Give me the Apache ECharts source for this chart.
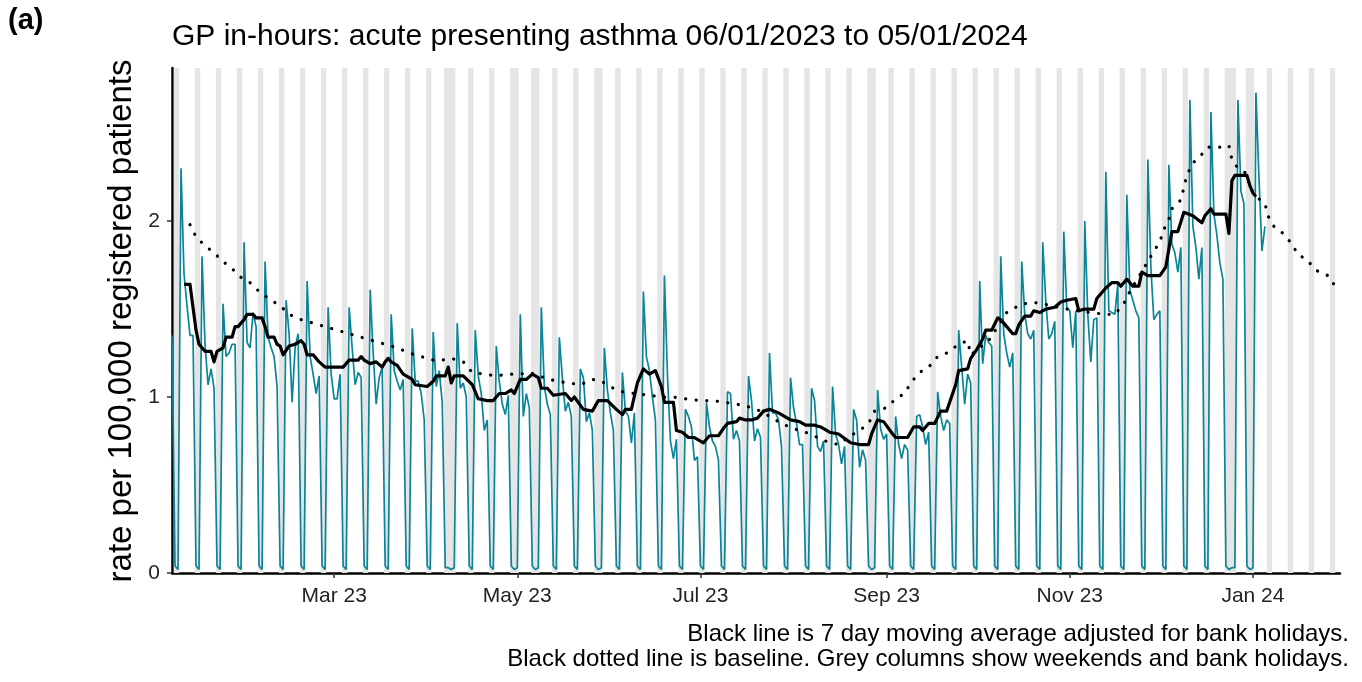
<!DOCTYPE html>
<html><head><meta charset="utf-8">
<script src="https://cdn.jsdelivr.net/npm/echarts@6/dist/echarts.min.js"></script>
<style>html,body{margin:0;padding:0;background:#fff}#chart{width:1362px;height:682px}</style>
</head><body><div id="chart"></div>
<script>
// ---------- data ----------
const startDate = '2023-01-06';
const rateJan23 = [1.35,0.04,0.02,2.30,1.70,1.52,1.35,1.35,0.04,0.02,1.80,1.30,1.07,1.16,1.05,0.04,0.02,1.53,1.23,1.25,1.30,1.30,0.04,0.02,1.88,1.31];
const rateFeb23 = [1.28,1.48,1.40,0.04,0.02,1.77,1.34,1.28,1.23,1.06,0.04,0.02,1.55,1.36,0.97,1.28,1.36,0.04,0.02,1.66,1.23,1.13,1.02,1.12,0.04,0.02,1.51,1.13];
const rateMar23 = [0.99,0.99,1.13,0.04,0.02,1.51,1.28,1.07,1.14,1.11,0.04,0.02,1.61,1.25,0.96,1.11,1.17,0.04,0.02,1.47,1.15,1.09,1.04,1.10,0.04,0.02,1.39,1.09,1.09,1.02,0.87];
const rateApr23 = [0.04,0.02,1.37,1.06,1.15,0.97,0.03,0.03,0.02,0.03,1.42,1.05,1.08,1.00,0.04,0.02,1.38,1.12,1.02,0.81,0.87,0.04,0.02,1.29,1.09,0.96,0.90,1.01,0.04,0.02];
const rateMay23 = [0.03,1.47,0.89,1.02,0.94,0.04,0.02,0.03,1.51,1.06,0.96,0.90,0.04,0.02,1.34,1.11,0.92,0.97,0.89,0.04,0.02,1.16,1.11,0.86,0.91,0.81,0.04,0.02,0.03,1.28,1.04];
const rateJun23 = [0.91,0.81,0.04,0.02,1.14,0.92,0.89,0.74,0.91,0.04,0.02,1.60,1.23,1.15,1.00,0.87,0.04,0.02,1.69,1.13,0.75,0.65,0.76,0.04,0.02,0.93,0.89,0.83,0.64,0.66];
const rateJul23 = [0.04,0.02,0.97,0.83,0.75,0.72,0.64,0.04,0.02,1.03,1.02,0.76,0.81,0.75,0.04,0.02,1.12,0.98,0.75,0.82,0.77,0.04,0.02,1.25,0.91,0.91,0.87,0.72,0.04,0.02,1.11];
const rateAug23 = [0.94,0.85,0.73,0.73,0.04,0.02,1.05,0.98,0.72,0.69,0.75,0.04,0.02,1.06,0.79,0.73,0.62,0.72,0.04,0.02,0.93,0.87,0.60,0.70,0.64,0.04,0.02,0.03,1.04,0.82,0.76];
const rateSep23 = [0.79,0.04,0.02,0.89,0.73,0.65,0.73,0.70,0.04,0.02,0.89,0.90,0.83,0.73,0.80,0.04,0.02,1.03,0.89,0.81,0.87,0.85,0.04,0.02,1.38,1.17,0.96,1.13,1.08,0.04];
const rateOct23 = [0.02,1.66,1.19,1.35,1.31,1.29,0.04,0.02,1.80,1.36,1.25,1.17,1.25,0.04,0.02,1.77,1.47,1.36,1.33,1.38,0.04,0.02,1.88,1.55,1.33,1.36,1.43,0.04,0.02,1.94,1.51];
const rateNov23 = [1.49,1.28,1.49,0.04,0.02,2.00,1.47,1.20,1.44,1.45,0.04,0.02,2.28,1.49,1.48,1.47,1.64,0.04,0.02,2.15,1.61,1.55,1.49,1.45,0.04,0.02,2.35,1.74,1.44,1.47];
const rateDec23 = [1.49,0.04,0.02,2.32,1.87,1.82,1.71,1.85,0.04,0.02,2.69,1.97,1.85,1.67,1.85,0.04,0.02,2.62,2.04,1.92,1.76,1.67,0.04,0.02,0.03,0.03,2.69,2.17,2.10,0.04,0.02];
const rateJan24 = [0.03,2.73,2.25,1.83,1.97];

const maDates = ['2023-01-10','2023-01-12','2023-01-14','2023-01-15','2023-01-17','2023-01-19','2023-01-20','2023-01-21','2023-01-23','2023-01-24','2023-01-26','2023-01-27','2023-01-28','2023-01-30','2023-01-31','2023-02-02','2023-02-03','2023-02-05','2023-02-06','2023-02-07','2023-02-09','2023-02-10','2023-02-11','2023-02-12','2023-02-14','2023-02-16','2023-02-18','2023-02-19','2023-02-20','2023-02-22','2023-02-24','2023-02-26','2023-03-04','2023-03-06','2023-03-09','2023-03-10','2023-03-11','2023-03-13','2023-03-15','2023-03-17','2023-03-18','2023-03-19','2023-03-20','2023-03-22','2023-03-24','2023-03-27','2023-03-28','2023-04-01','2023-04-03','2023-04-04','2023-04-07','2023-04-08','2023-04-09','2023-04-10','2023-04-13','2023-04-16','2023-04-18','2023-04-21','2023-04-23','2023-04-25','2023-04-27','2023-04-29','2023-04-30','2023-05-02','2023-05-04','2023-05-06','2023-05-08','2023-05-09','2023-05-11','2023-05-13','2023-05-17','2023-05-19','2023-05-20','2023-05-23','2023-05-26','2023-05-28','2023-05-31','2023-06-03','2023-06-05','2023-06-06','2023-06-08','2023-06-10','2023-06-12','2023-06-14','2023-06-16','2023-06-18','2023-06-19','2023-06-22','2023-06-23','2023-06-25','2023-06-27','2023-06-29','2023-07-02','2023-07-04','2023-07-07','2023-07-09','2023-07-10','2023-07-13','2023-07-14','2023-07-16','2023-07-18','2023-07-20','2023-07-22','2023-07-24','2023-07-27','2023-07-29','2023-07-31','2023-08-03','2023-08-05','2023-08-08','2023-08-10','2023-08-12','2023-08-13','2023-08-16','2023-08-20','2023-08-23','2023-08-26','2023-08-27','2023-08-29','2023-08-31','2023-09-03','2023-09-04','2023-09-08','2023-09-10','2023-09-12','2023-09-13','2023-09-15','2023-09-17','2023-09-19','2023-09-21','2023-09-23','2023-09-24','2023-09-25','2023-09-28','2023-09-29','2023-10-01','2023-10-03','2023-10-04','2023-10-06','2023-10-08','2023-10-09','2023-10-11','2023-10-13','2023-10-14','2023-10-15','2023-10-17','2023-10-19','2023-10-20','2023-10-22','2023-10-24','2023-10-27','2023-10-29','2023-10-31','2023-11-03','2023-11-04','2023-11-06','2023-11-09','2023-11-10','2023-11-13','2023-11-15','2023-11-17','2023-11-18','2023-11-20','2023-11-22','2023-11-24','2023-11-25','2023-11-27','2023-12-01','2023-12-03','2023-12-05','2023-12-07','2023-12-09','2023-12-12','2023-12-15','2023-12-16','2023-12-18','2023-12-19','2023-12-23','2023-12-24','2023-12-25','2023-12-26','2023-12-30','2023-12-31','2024-01-01','2024-01-02'];
const maValues = [1.64,1.64,1.38,1.30,1.26,1.26,1.20,1.26,1.28,1.34,1.34,1.40,1.40,1.44,1.47,1.47,1.45,1.45,1.40,1.34,1.34,1.30,1.29,1.24,1.29,1.30,1.32,1.30,1.24,1.24,1.20,1.17,1.17,1.21,1.21,1.23,1.21,1.19,1.20,1.17,1.20,1.22,1.20,1.18,1.13,1.10,1.07,1.06,1.09,1.12,1.12,1.17,1.08,1.12,1.12,1.07,0.99,0.98,0.98,1.02,1.02,1.04,1.02,1.10,1.10,1.13,1.11,1.05,1.05,1.01,1.02,0.98,1.00,0.93,0.92,0.98,0.98,0.93,0.90,0.93,0.93,1.08,1.16,1.13,1.15,1.06,0.97,0.97,0.81,0.80,0.77,0.77,0.74,0.78,0.78,0.83,0.85,0.86,0.88,0.87,0.87,0.88,0.92,0.93,0.91,0.89,0.87,0.86,0.84,0.84,0.83,0.81,0.80,0.79,0.74,0.73,0.73,0.79,0.87,0.86,0.79,0.77,0.77,0.83,0.83,0.81,0.85,0.85,0.92,0.92,1.02,1.07,1.15,1.16,1.22,1.27,1.33,1.38,1.38,1.45,1.44,1.40,1.36,1.36,1.41,1.46,1.46,1.49,1.48,1.50,1.51,1.54,1.55,1.56,1.49,1.50,1.50,1.56,1.62,1.65,1.65,1.63,1.67,1.63,1.63,1.71,1.69,1.69,1.74,1.94,1.94,2.05,2.03,1.99,2.03,2.07,2.04,2.04,1.93,2.23,2.26,2.26,2.20,2.16,2.14];

const baseDates = ['2023-01-12','2023-01-14','2023-01-17','2023-01-20','2023-01-23','2023-01-26','2023-01-29','2023-02-01','2023-02-04','2023-02-08','2023-02-11','2023-02-14','2023-02-18','2023-02-22','2023-02-26','2023-03-02','2023-03-06','2023-03-10','2023-03-14','2023-03-18','2023-03-22','2023-03-26','2023-03-30','2023-04-03','2023-04-06','2023-04-09','2023-04-13','2023-04-16','2023-04-20','2023-04-24','2023-04-28','2023-05-02','2023-05-05','2023-05-10','2023-05-14','2023-05-18','2023-05-22','2023-05-26','2023-05-29','2023-06-02','2023-06-05','2023-06-09','2023-06-14','2023-06-18','2023-06-22','2023-06-26','2023-07-01','2023-07-05','2023-07-09','2023-07-13','2023-07-18','2023-07-21','2023-07-25','2023-07-28','2023-08-01','2023-08-05','2023-08-09','2023-08-13','2023-08-16','2023-08-20','2023-08-23','2023-08-26','2023-08-28','2023-09-01','2023-09-04','2023-09-07','2023-09-09','2023-09-12','2023-09-15','2023-09-18','2023-09-21','2023-09-25','2023-09-28','2023-09-29','2023-10-02','2023-10-05','2023-10-11','2023-10-15','2023-10-19','2023-10-23','2023-10-31','2023-11-08','2023-11-13','2023-11-16','2023-11-19','2023-11-21','2023-11-27','2023-11-29','2023-12-01','2023-12-02','2023-12-04','2023-12-05','2023-12-08','2023-12-09','2023-12-10','2023-12-12','2023-12-14','2023-12-17','2023-12-21','2023-12-24','2023-12-25','2023-12-27','2023-12-30','2023-12-31','2024-01-02','2024-01-05','2024-01-06','2024-01-08','2024-01-11','2024-01-14','2024-01-16','2024-01-19','2024-01-22','2024-01-26','2024-01-28'];
const baseValues = [1.98,1.91,1.86,1.82,1.77,1.73,1.68,1.65,1.60,1.55,1.52,1.47,1.44,1.42,1.40,1.38,1.36,1.34,1.32,1.30,1.28,1.25,1.23,1.21,1.21,1.22,1.20,1.14,1.13,1.12,1.13,1.13,1.14,1.11,1.09,1.08,1.07,1.10,1.09,1.05,1.03,1.02,1.01,1.00,1.00,0.99,0.98,0.98,0.97,0.96,0.94,0.92,0.88,0.85,0.82,0.80,0.77,0.74,0.73,0.78,0.81,0.85,0.92,0.94,0.99,1.02,1.08,1.14,1.17,1.23,1.25,1.30,1.32,1.24,1.28,1.32,1.48,1.52,1.54,1.53,1.50,1.48,1.47,1.47,1.53,1.60,1.77,1.83,1.88,1.94,2.01,2.07,2.12,2.19,2.26,2.33,2.36,2.42,2.42,2.43,2.35,2.30,2.27,2.19,2.14,2.10,2.03,1.97,1.93,1.87,1.81,1.78,1.72,1.69,1.64];

const bankHolidays = ['2023-04-07','2023-04-10','2023-05-01','2023-05-08','2023-05-29','2023-08-28','2023-12-25','2023-12-26','2024-01-01'];
const columnRange = ['2023-01-06','2024-01-29'];
const axisRange = ['2023-01-06','2024-01-30'];
const tickDates = ['2023-03-01','2023-05-01','2023-07-01','2023-09-01','2023-11-01','2024-01-01'];
const tickLabels = ['Mar 23','May 23','Jul 23','Sep 23','Nov 23','Jan 24'];
const yTicks = [0, 1, 2];
const yMax = 2.87;

const titleText = 'GP in-hours: acute presenting asthma 06/01/2023 to 05/01/2024';
const panelTag = '(a)';
const yAxisTitle = 'rate per 100,000 registered patients';
const captionLines = ['Black line is 7 day moving average adjusted for bank holidays.',
  'Black dotted line is baseline. Grey columns show weekends and bank holidays.'];

// ---------- build ----------
const DAY = 86400000;
function toTs(s) { const p = s.split('-').map(Number); return new Date(p[0], p[1] - 1, p[2]).getTime(); }
function addDays(s, n) { const p = s.split('-').map(Number); return new Date(p[0], p[1] - 1, p[2] + n); }

const dailyRates = [].concat(rateJan23, rateFeb23, rateMar23, rateApr23, rateMay23, rateJun23,
  rateJul23, rateAug23, rateSep23, rateOct23, rateNov23, rateDec23, rateJan24);
const rateData = dailyRates.map((v, i) => [addDays(startDate, i).getTime(), v]);
const maData = maDates.map((d, i) => [toTs(d), maValues[i]]);
const baseData = baseDates.map((d, i) => [toTs(d), baseValues[i]]);

const bhSet = new Set(bankHolidays.map(toTs));
const runs = [];
{
  const end = toTs(columnRange[1]);
  let i = 0, cur = null;
  while (true) {
    const dt = addDays(columnRange[0], i); const ts = dt.getTime();
    if (ts > end) break;
    const grey = dt.getDay() === 0 || dt.getDay() === 6 || bhSet.has(ts);
    if (grey) { if (cur) cur[1] = ts; else cur = [ts, ts]; }
    else if (cur) { runs.push(cur); cur = null; }
    i++;
  }
  if (cur) runs.push(cur);
}
const tickTs = tickDates.map(toTs);

const FONT = '"Liberation Sans", Arial, Helvetica, sans-serif';
const chart = echarts.init(document.getElementById('chart'), null, { renderer: 'canvas' });
chart.setOption({
  animation: false,
  backgroundColor: '#ffffff',
  grid: { left: 172, right: 22, top: 68, bottom: 109, containLabel: false },
  xAxis: {
    type: 'value', min: toTs(axisRange[0]), max: toTs(axisRange[1]), scale: true,
    axisLine: { show: true, onZero: false, lineStyle: { color: '#000', width: 2.5 } },
    axisTick: { show: true, length: 5, lineStyle: { color: '#333', width: 1.5 }, customValues: tickTs },
    axisLabel: { customValues: tickTs, fontSize: 21, color: '#222', fontFamily: FONT, margin: 13,
      formatter: v => { const k = tickTs.indexOf(v); return k >= 0 ? tickLabels[k] : ''; } },
    splitLine: { show: false }, minorTick: { show: false }
  },
  yAxis: {
    type: 'value', min: 0, max: yMax,
    axisLine: { show: true, lineStyle: { color: '#000', width: 2.5 } },
    axisTick: { show: true, length: 5, lineStyle: { color: '#333', width: 1.5 }, customValues: yTicks },
    axisLabel: { customValues: yTicks, fontSize: 21, color: '#222', fontFamily: FONT, margin: 12 },
    splitLine: { show: false }
  },
  graphic: [
    { type: 'text', x: 8, y: 21, style: { text: panelTag, fontSize: 29, fontWeight: 'bold', fontFamily: FONT, fill: '#000', align: 'left', verticalAlign: 'middle' } },
    { type: 'text', x: 172, y: 37, style: { text: titleText, fontSize: 30, fontFamily: FONT, fill: '#000', align: 'left', verticalAlign: 'middle' } },
    { type: 'text', x: 122, y: 321, rotation: Math.PI / 2, style: { text: yAxisTitle, fontSize: 33, fontFamily: FONT, fill: '#000', align: 'center', verticalAlign: 'middle' } },
    { type: 'text', x: 1349, y: 634, style: { text: captionLines[0], fontSize: 24, fontFamily: FONT, fill: '#000', align: 'right', verticalAlign: 'middle' } },
    { type: 'text', x: 1349, y: 659, style: { text: captionLines[1], fontSize: 24, fontFamily: FONT, fill: '#000', align: 'right', verticalAlign: 'middle' } }
  ],
  series: [
    {
      type: 'custom', name: 'columns', silent: true, clip: true, z: 1,
      data: runs, encode: { x: [0, 1] },
      renderItem: (params, api) => {
        const a = api.coord([api.value(0) - 0.4 * DAY, yMax]);
        const b = api.coord([api.value(1) + 0.4 * DAY, 0]);
        return { type: 'rect', shape: { x: a[0], y: a[1], width: b[0] - a[0], height: b[1] - a[1] }, style: { fill: '#E5E5E5' } };
      }
    },
    { type: 'line', name: 'rate', data: rateData, showSymbol: false, z: 2,
      lineStyle: { color: '#0B8498', width: 1.7 } },
    { type: 'line', name: 'baseline', data: baseData, showSymbol: false, z: 3, smooth: false,
      lineStyle: { color: '#000', width: 3.2, type: [0.1, 10.5], cap: 'round' } },
    { type: 'line', name: 'ma', data: maData, showSymbol: false, z: 4,
      lineStyle: { color: '#000', width: 3.2, join: 'round' } }
  ]
});
</script></body></html>
